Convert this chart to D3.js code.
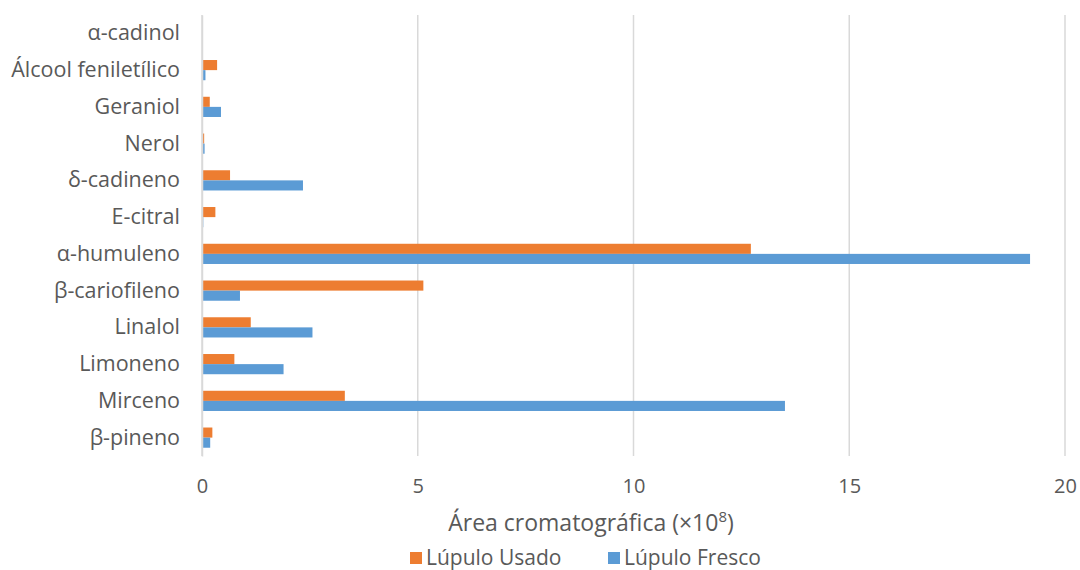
<!DOCTYPE html>
<html>
<head>
<meta charset="utf-8">
<script src="https://cdn.jsdelivr.net/npm/d3@7"></script>
<style>
  body { margin: 0; background: #fff; }
  text { font-family: "Open Sans", "Noto Sans", sans-serif; fill: #595959; }
</style>
</head>
<body>
<svg id="chart" width="1080" height="570"></svg>
<script>
// categories bottom -> top
let categories = ['β-pineno', 'Mirceno', 'Limoneno', 'Linalol', 'β-cariofileno', 'α-humuleno',
  'E-citral', 'δ-cadineno', 'Nerol', 'Geraniol', 'Álcool feniletílico', 'α-cadinol']
let usado = [0.24, 3.31, 0.75, 1.13, 5.13, 12.72, 0.31, 0.65, 0.05, 0.18, 0.35, 0]
let fresco = [0.19, 13.51, 1.89, 2.56, 0.88, 19.19, 0.03, 2.34, 0.06, 0.44, 0.08, 0]
let ticks = [0, 5, 10, 15, 20]
let seriesNames = ['Lúpulo Usado', 'Lúpulo Fresco']
let colors = ['#ed7d31', '#5b9bd5']

let svg = d3.select('#chart')
let pLeft = 202, pRight = 1065, pTop = 15, pBottom = 456

let x = d3.scaleLinear().domain([0, 20]).range([pLeft, pRight])
let y = d3.scaleBand().domain(categories.slice().reverse()).range([pTop, pBottom]).paddingInner(0.45).paddingOuter(0.225)
let sub = d3.scaleBand().domain(seriesNames).range([0, y.bandwidth()])

// gridlines
svg.append('g')
  .selectAll('line')
  .data(ticks)
  .enter()
  .append('line')
  .attr('x1', d => x(d))
  .attr('x2', d => x(d))
  .attr('y1', pTop)
  .attr('y2', pBottom)
  .attr('stroke', '#d9d9d9')
  .attr('stroke-width', 1.5)

// bars
let rows = categories.map((c, i) => ({ cat: c, vals: [usado[i], fresco[i]] }))
let grp = svg.append('g')
  .selectAll('g')
  .data(rows)
  .enter()
  .append('g')
  .attr('transform', d => 'translate(0,' + y(d.cat) + ')')

grp.selectAll('rect')
  .data(d => d.vals.map((v, j) => ({ v: v, s: seriesNames[j], c: colors[j] })))
  .enter()
  .append('rect')
  .attr('x', x(0))
  .attr('y', d => sub(d.s))
  .attr('width', d => x(d.v) - x(0))
  .attr('height', sub.bandwidth())
  .attr('fill', d => d.c)

// category axis
let yAxis = svg.append('g')
  .attr('transform', 'translate(' + x(0) + ',0)')
  .call(d3.axisLeft(y).tickSize(0).tickPadding(22))
yAxis.select('.domain').attr('stroke', '#d9d9d9').attr('stroke-width', 1.5)
yAxis.selectAll('text').style('font-size', '21.5px')

// value axis
let xAxis = svg.append('g')
  .attr('transform', 'translate(0,' + pBottom + ')')
  .call(d3.axisBottom(x).tickValues(ticks).tickSize(0).tickPadding(23))
xAxis.select('.domain').remove()
xAxis.selectAll('text').style('font-size', '20px')

// axis title
let title = svg.append('text')
  .attr('x', 591)
  .attr('y', 531)
  .attr('text-anchor', 'middle')
  .style('font-size', '23px')
title.append('tspan').text('Área cromatográfica (×10')
title.append('tspan').attr('dy', -9).style('font-size', '15px').text('8')
title.append('tspan').attr('dy', 9).text(')')

// legend
let legend = svg.append('g').attr('transform', 'translate(410,558)')
let lx = [0, 198]
seriesNames.forEach((n, i) => {
  legend.append('rect')
    .attr('x', lx[i])
    .attr('y', -6)
    .attr('width', 12)
    .attr('height', 12)
    .attr('fill', colors[i])
  legend.append('text')
    .attr('x', lx[i] + 16)
    .attr('y', 0)
    .attr('dy', '0.35em')
    .style('font-size', '21px')
    .text(n)
})
</script>
</body>
</html>
